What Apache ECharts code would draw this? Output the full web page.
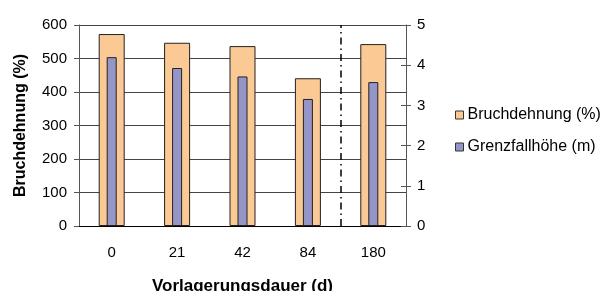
<!DOCTYPE html>
<html>
<head>
<meta charset="utf-8">
<script src="https://cdn.jsdelivr.net/npm/echarts@6/dist/echarts.min.js"></script>
<style>
html, body { margin: 0; padding: 0; background: #fff; }
#c { width: 607px; height: 291px; }
</style>
</head>
<body>
<div id="c"></div>
<script>
const categories = ['0', '21', '42', '84', '180']
const bruchdehnung = [573, 547, 537, 441, 543]
const grenzfallhoehe = [4.2, 3.93, 3.72, 3.16, 3.58]
const separatorAfter = 4 // dash-dot line after the 4th category

const font = 'Liberation Sans, Arial, sans-serif'
const myChart = echarts.init(document.getElementById('c'))

const option = {
  animation: false,
  textStyle: { fontFamily: font },
  grid: { left: 79, right: 201, top: 25, bottom: 65, containLabel: false, outerBoundsMode: 'none' },
  legend: {
    orient: 'vertical',
    left: 450,
    top: 102,
    itemWidth: 8,
    itemHeight: 8,
    itemGap: 16,
    itemStyle: { borderColor: '#333', borderWidth: 1 },
    icon: 'rect',
    textStyle: { fontSize: 16, color: '#000', fontFamily: font, padding: [0, 0, 0, -1] },
    data: ['Bruchdehnung (%)', 'Grenzfallhöhe (m)']
  },
  xAxis: [
    {
      type: 'category',
      data: categories,
      name: 'Vorlagerungsdauer (d)',
      nameLocation: 'middle',
      nameGap: 52,
      nameTextStyle: { fontWeight: 'bold', fontSize: 17, color: '#000' },
      axisLine: { lineStyle: { color: '#000' } },
      axisTick: { length: 6, lineStyle: { color: '#000' } },
      axisLabel: { fontSize: 15, color: '#000', margin: 19 }
    },
    { type: 'category', data: categories, show: false },
    { type: 'value', min: 0, max: categories.length, show: false }
  ],
  yAxis: [
    {
      type: 'value',
      min: 0, max: 600, interval: 100,
      name: 'Bruchdehnung (%)',
      nameLocation: 'middle',
      nameGap: 50,
      nameTextStyle: { fontWeight: 'bold', fontSize: 16, color: '#000' },
      axisLine: { show: true, lineStyle: { color: '#555' } },
      axisTick: { show: true, length: 5, lineStyle: { color: '#555' } },
      axisLabel: { fontSize: 15, color: '#000', margin: 12 },
      splitLine: { lineStyle: { color: '#444' } }
    },
    {
      type: 'value',
      position: 'right',
      min: 0, max: 5, interval: 1,
      axisLine: { show: true, lineStyle: { color: '#555' } },
      axisTick: { show: true, length: 5, lineStyle: { color: '#555' } },
      axisLabel: { fontSize: 15, color: '#000', margin: 11 },
      splitLine: { show: false }
    },
    {
      type: 'value',
      position: 'right',
      min: 0, max: 5, interval: 1,
      axisLine: { show: false },
      axisTick: { show: true, inside: true, length: 5, lineStyle: { color: '#555' } },
      axisLabel: { show: false },
      splitLine: { show: false }
    }
  ],
  series: [
    {
      name: 'Bruchdehnung (%)',
      type: 'bar',
      xAxisIndex: 0,
      yAxisIndex: 0,
      barWidth: 26,
      data: bruchdehnung,
      itemStyle: { color: '#FBC994', borderColor: '#222', borderWidth: 1 }
    },
    {
      name: 'Grenzfallhöhe (m)',
      type: 'bar',
      xAxisIndex: 1,
      yAxisIndex: 1,
      barWidth: 10,
      data: grenzfallhoehe,
      itemStyle: { color: '#9595C8', borderColor: '#222', borderWidth: 1 }
    },
    {
      type: 'line',
      xAxisIndex: 2,
      yAxisIndex: 2,
      data: [],
      markLine: {
        silent: true,
        symbol: 'none',
        label: { show: false },
        lineStyle: { color: '#000', width: 1.5, type: [7, 4, 1.5, 4] },
        data: [{ xAxis: separatorAfter }]
      }
    }
  ]
}
myChart.setOption(option)
</script>
</body>
</html>
